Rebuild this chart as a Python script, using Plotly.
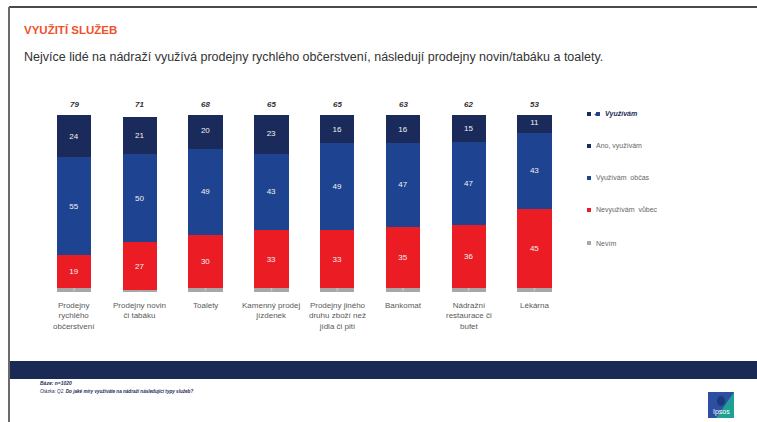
import plotly.graph_objects as go

W, H = 757, 422

categories = ["Prodejny<br>rychlého<br>občerstvení", "Prodejny novin<br>či tabáku", "Toalety",
              "Kamenný prodej<br>jízdenek", "Prodejny jiného<br>druhu zboží než<br>jídla či pití",
              "Bankomat", "Nádražní<br>restaurace či<br>bufet", "Lékárna"]
nevim = [2, 1, 2, 2, 2, 2, 2, 2]
nevyuzivam = [19, 27, 30, 33, 33, 35, 36, 45]
obcas = [55, 50, 49, 43, 49, 47, 47, 43]
ano = [24, 21, 20, 23, 16, 16, 15, 11]
totals = [79, 71, 68, 65, 65, 63, 62, 53]

series_names = ["Nevím", "Nevyužívám  vůbec", "Využívám  občas", "Ano, využívám"]
series_vals = [nevim, nevyuzivam, obcas, ano]
colors = ["#A7A7A7", "#EC1C24", "#1E4390", "#1A2A5A"]

def px(x):
    return x / W
def py(y):
    return 1 - y / H

x0_px, x1_px = 41.1, 567.5
ybot, ytop = 292, 115

fig = go.Figure()
xs = list(range(len(categories)))
for name, vals, col in zip(series_names, series_vals, colors):
    fig.add_trace(go.Bar(
        x=xs, y=vals, name=name, marker=dict(color=col, line=dict(width=0)),
        width=0.52, text=[str(v) for v in vals], textposition="inside",
        insidetextanchor="middle", textangle=0,
        textfont=dict(color="#F2F2F2", size=8, family="Liberation Sans"),
        showlegend=False, hoverinfo="skip"))

fig.update_layout(
    barmode="stack", width=W, height=H, margin=dict(l=0, r=0, t=0, b=0),
    paper_bgcolor="white", plot_bgcolor="white",
    xaxis=dict(domain=[px(x0_px), px(x1_px)], range=[-0.5, 7.5], visible=False, fixedrange=True),
    yaxis=dict(domain=[py(ybot), py(ytop)], range=[0, 100], visible=False, fixedrange=True),
    font=dict(family="Liberation Sans"),
)

ann = []
for i, t in enumerate(totals):
    ann.append(dict(x=i, y=100, xref="x", yref="y", yshift=10, text=f"<b><i>{t}</i></b>",
                    showarrow=False, font=dict(size=8, color="#333333")))
for i, c in enumerate(categories):
    ann.append(dict(x=i, y=py(299), xref="x", yref="paper", yanchor="top", text=c,
                    showarrow=False, font=dict(size=8, color="#5a5a5a")))

ann.append(dict(x=px(22), y=py(30), xref="paper", yref="paper", xanchor="left", yanchor="middle",
                text="<b>VYUŽITÍ SLUŽEB</b>", showarrow=False,
                font=dict(size=11.5, color="#F0502A", family="Liberation Sans")))
ann.append(dict(x=px(22), y=py(57), xref="paper", yref="paper", xanchor="left", yanchor="middle",
                text="Nejvíce lidé na nádraží využívá prodejny rychlého občerstvení, následují prodejny novin/tabáku a toalety.",
                showarrow=False, font=dict(size=12.5, color="#333333")))

shapes = []
leg_items = [("Ano, využívám", colors[3]), ("Využívám  občas", colors[2]),
             ("Nevyužívám  vůbec", colors[1]), ("Nevím", colors[0])]
leg_y = [146, 178, 210, 243]
for (name, col), yy in zip(leg_items, leg_y):
    shapes.append(dict(type="rect", xref="paper", yref="paper", x0=px(587), x1=px(591),
                       y0=py(yy + 2), y1=py(yy - 2), fillcolor=col, line=dict(width=0)))
    ann.append(dict(x=px(594), y=py(yy), xref="paper", yref="paper", xanchor="left", yanchor="middle",
                    text=name, showarrow=False, font=dict(size=7, color="#666666")))
yy = 114
shapes.append(dict(type="rect", xref="paper", yref="paper", x0=px(587), x1=px(591),
                   y0=py(yy + 2), y1=py(yy - 2), fillcolor=colors[3], line=dict(width=0)))
shapes.append(dict(type="rect", xref="paper", yref="paper", x0=px(596), x1=px(600),
                   y0=py(yy + 2), y1=py(yy - 2), fillcolor=colors[2], line=dict(width=0)))
ann.append(dict(x=px(591.5), y=py(yy), xref="paper", yref="paper", xanchor="left", yanchor="middle",
                text="<b>+</b>", showarrow=False, font=dict(size=6, color=colors[3])))
ann.append(dict(x=px(603), y=py(yy), xref="paper", yref="paper", xanchor="left", yanchor="middle",
                text="<b><i>Využívám</i></b>", showarrow=False, font=dict(size=7, color=colors[3])))

shapes.append(dict(type="line", xref="paper", yref="paper", x0=px(9), x1=1, y0=py(7), y1=py(7),
                   line=dict(color="#4a4a4a", width=2)))
shapes.append(dict(type="line", xref="paper", yref="paper", x0=px(9), x1=px(9), y0=py(7), y1=0,
                   line=dict(color="#6a6a6a", width=2)))
shapes.append(dict(type="rect", xref="paper", yref="paper", x0=px(10), x1=1, y0=py(379), y1=py(361),
                   fillcolor="#1B2A55", line=dict(width=0)))
ann.append(dict(x=px(38), y=py(383), xref="paper", yref="paper", xanchor="left", yanchor="middle",
                text="<b><i>Báze: n=1020</i></b>", showarrow=False, font=dict(size=5, color="#1B2A55")))
ann.append(dict(x=px(38), y=py(391), xref="paper", yref="paper", xanchor="left", yanchor="middle",
                text="<i>Otázka: Q2. <b>Do jaké míry využíváte na nádraží následující typy služeb?</b></i>",
                showarrow=False, font=dict(size=4.6, color="#1B2A55")))
shapes.append(dict(type="rect", xref="paper", yref="paper", x0=px(708), x1=px(734), y0=py(418), y1=py(392),
                   fillcolor="#2D4FA2", line=dict(width=0)))
shapes.append(dict(type="path", xref="paper", yref="paper",
                   path=f"M {px(734)} {py(392)} L {px(734)} {py(418)} L {px(716)} {py(418)} Z",
                   fillcolor="#1FA096", line=dict(width=0)))
shapes.append(dict(type="circle", xref="paper", yref="paper", x0=px(717), x1=px(725), y0=py(406), y1=py(396),
                   fillcolor="#1a3a7a", line=dict(width=0)))
ann.append(dict(x=px(721), y=py(412), xref="paper", yref="paper", xanchor="center", yanchor="middle",
                text="Ipsos", showarrow=False, font=dict(size=7, color="white")))

fig.update_layout(annotations=ann, shapes=shapes)
fig.write_html("out.html", config={"displayModeBar": False},
               post_script="document.body.style.margin='0';document.body.style.overflow='hidden';")
